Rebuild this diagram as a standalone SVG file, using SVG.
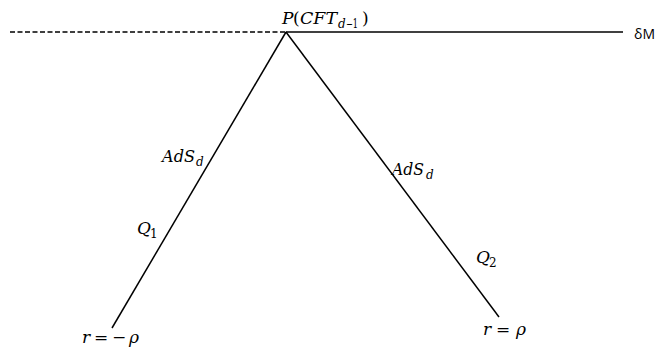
<svg xmlns="http://www.w3.org/2000/svg" width="662" height="347" viewBox="0 0 662 347">
<style>
.ln{stroke:#000;stroke-width:1.5;fill:none}
.m{font-family:"DejaVu Serif","Liberation Serif",serif;font-size:17px;fill:#000}
.i{font-style:italic}
.s{font-size:12px}
.sans{font-family:"Open Sans","Liberation Sans",sans-serif;font-size:14px;fill:#000}
</style>
<rect width="662" height="347" fill="#fff"/>
<g id="connectors">
<line class="ln" x1="10" y1="32" x2="286" y2="32" stroke-dasharray="5 2.5"/>
<line class="ln" x1="286" y1="32" x2="623" y2="32"/>
<line class="ln" x1="286" y1="32" x2="112" y2="328"/>
<line class="ln" x1="286" y1="32" x2="499" y2="317"/>
</g>
<g id="apex">
<text class="m" y="24"><tspan class="i" x="282">P</tspan><tspan x="293">(</tspan><tspan class="i" x="300" textLength="37" lengthAdjust="spacingAndGlyphs">CFT</tspan><tspan class="i s" x="338" y="28">d</tspan><tspan class="s" x="346" y="28" textLength="12" lengthAdjust="spacingAndGlyphs">−1</tspan><tspan x="362" y="24">)</tspan></text>
</g>
<g id="deltaM">
<text class="sans" x="634" y="39">δM</text>
</g>
<g id="left-label">
<text class="m" y="162"><tspan class="i" x="162" textLength="33" lengthAdjust="spacingAndGlyphs">AdS</tspan><tspan class="i s" x="196" y="166">d</tspan></text>
<text class="m" y="234"><tspan class="i" x="137">Q</tspan><tspan class="s" x="150" y="238">1</tspan></text>
<text class="m" y="343"><tspan class="i" x="82">r</tspan><tspan x="94">=</tspan><tspan x="112">−</tspan><tspan class="i" x="129">ρ</tspan></text>
</g>
<g id="right-label">
<text class="m" y="175"><tspan class="i" x="392" textLength="32" lengthAdjust="spacingAndGlyphs">AdS</tspan><tspan class="i s" x="426" y="179">d</tspan></text>
<text class="m" y="263"><tspan class="i" x="476">Q</tspan><tspan class="s" x="489" y="267">2</tspan></text>
<text class="m" y="335"><tspan class="i" x="483">r</tspan><tspan x="496">=</tspan><tspan class="i" x="516">ρ</tspan></text>
</g>
</svg>
